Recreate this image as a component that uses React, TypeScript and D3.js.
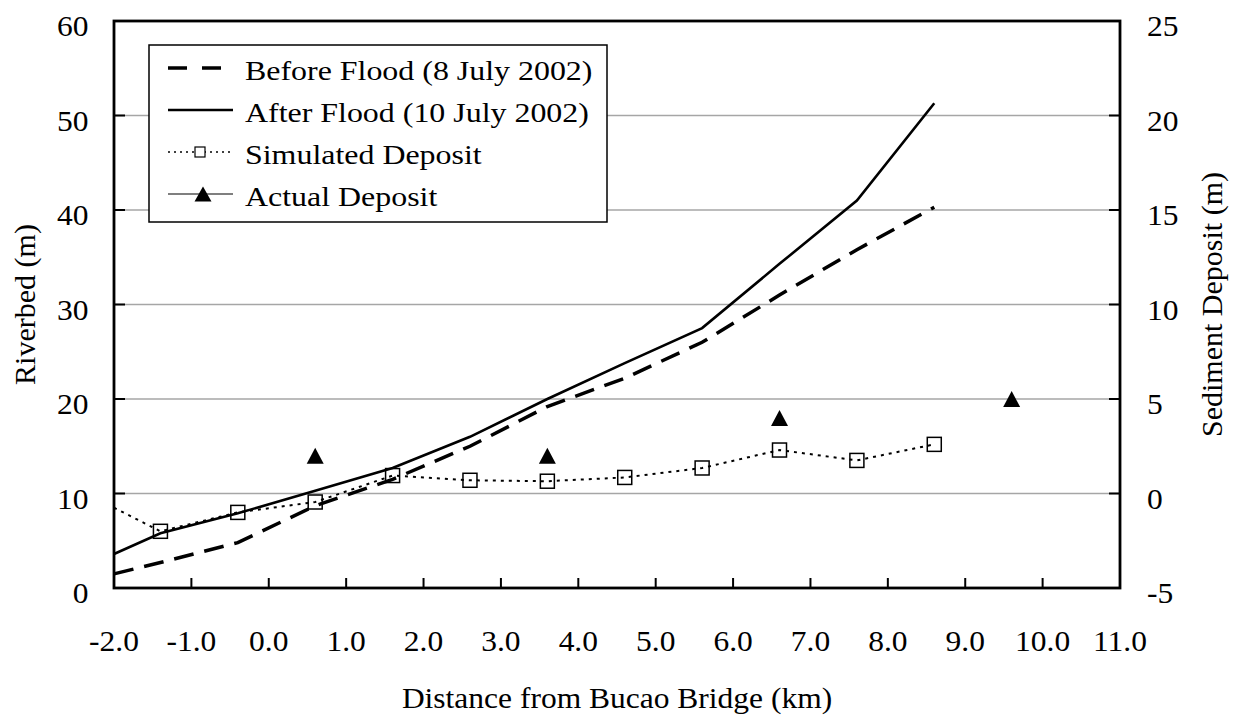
import React from "react";
import * as d3 from "d3";

const distance = [-2.0, -1.4, -0.4, 0.6, 1.6, 2.6, 3.6, 4.6, 5.6, 6.6, 7.6, 8.6];
const beforeFlood = [1.5, 2.7, 4.8, 8.7, 11.5, 15.0, 19.2, 22.2, 26.0, 31.0, 35.8, 40.3];
const afterFlood = [3.6, 5.8, 7.9, 10.3, 12.7, 16.0, 20.0, 23.8, 27.5, 34.3, 41.0, 51.3];
const simulatedDeposit = [-0.75, -2.0, -1.0, -0.45, 0.95, 0.7, 0.65, 0.85, 1.35, 2.3, 1.75, 2.6];
const actualDistance = [0.6, 3.6, 6.6, 9.6];
const actualDeposit = [2.0, 2.0, 4.0, 5.0];

const xTicks = [-2, -1, 0, 1, 2, 3, 4, 5, 6, 7, 8, 9, 10, 11];
const yLeftTicks = [0, 10, 20, 30, 40, 50, 60];
const yRightTicks = [-5, 0, 5, 10, 15, 20, 25];

const legendLabels = [
  "Before Flood (8 July 2002)",
  "After Flood (10 July 2002)",
  "Simulated Deposit",
  "Actual Deposit",
];

const L = 114, R = 1120, T = 21, B = 588;
const FONT = "Liberation Serif";

export default function App() {
  const x = d3.scaleLinear().domain([-2, 11]).range([L, R]);
  const yL = d3.scaleLinear().domain([0, 60]).range([B, T]);
  const yR = d3.scaleLinear().domain([-5, 25]).range([B, T]);

  const lineL = d3.line<[number, number]>().x((d) => x(d[0])).y((d) => yL(d[1]));
  const lineR = d3.line<[number, number]>().x((d) => x(d[0])).y((d) => yR(d[1]));

  const beforePts = distance.map((d, i) => [d, beforeFlood[i]] as [number, number]);
  const afterPts = distance.map((d, i) => [d, afterFlood[i]] as [number, number]);
  const simPts = distance.map((d, i) => [d, simulatedDeposit[i]] as [number, number]);
  const actPts = actualDistance.map((d, i) => [d, actualDeposit[i]] as [number, number]);

  const tri = (cx: number, cy: number, w = 17, h = 16) =>
    `M${cx},${cy - h / 2}L${cx + w / 2},${cy + h / 2}L${cx - w / 2},${cy + h / 2}Z`;

  const sq = 14;
  const legendRows = [68, 110, 152, 194];
  const txt = { fontFamily: FONT };

  return (
    <svg width={1240} height={718} style={{ position: "absolute", left: 0, top: 0, background: "#fff" }}>
      <rect x={0} y={0} width={1240} height={718} fill="#fff" />
      {yLeftTicks.filter((t) => t > 0 && t < 60).map((t) => (
        <line key={"g" + t} x1={L} x2={R} y1={yL(t)} y2={yL(t)} stroke="#a6a6a6" strokeWidth={1.3} />
      ))}
      {yLeftTicks.map((t) => (
        <g key={"yl" + t}>
          <line x1={L} x2={L + 11} y1={yL(t)} y2={yL(t)} stroke="#000" strokeWidth={2} />
          <text style={txt} transform={`translate(88.5,${yL(t) + 15}) scale(1.05,1)`} textAnchor="end" fontSize={30}>
            {t}
          </text>
        </g>
      ))}
      {yRightTicks.map((t) => (
        <g key={"yr" + t}>
          <line x1={R - 11} x2={R} y1={yR(t)} y2={yR(t)} stroke="#000" strokeWidth={2} />
          <text style={txt} transform={`translate(1147,${yR(t) + 15}) scale(1.05,1)`} textAnchor="start" fontSize={30}>
            {t}
          </text>
        </g>
      ))}
      {xTicks.map((t) => (
        <g key={"x" + t}>
          {t > -2 && t < 11 && (
            <line x1={x(t)} x2={x(t)} y1={B} y2={B - 10} stroke="#000" strokeWidth={2} />
          )}
          <text style={txt} transform={`translate(${x(t)},651) scale(1.05,1)`} textAnchor="middle" fontSize={30}>
            {t.toFixed(1)}
          </text>
        </g>
      ))}

      <path d={lineL(beforePts) || ""} fill="none" stroke="#000" strokeWidth={3.5} strokeDasharray="20,11" />
      <path d={lineL(afterPts) || ""} fill="none" stroke="#000" strokeWidth={2.6} />
      <path d={lineR(simPts) || ""} fill="none" stroke="#000" strokeWidth={2} strokeDasharray="3,5" />
      {simPts.slice(1).map((p, i) => (
        <rect key={"s" + i} x={x(p[0]) - sq / 2} y={yR(p[1]) - sq / 2} width={sq} height={sq} fill="none" stroke="#000" strokeWidth={1.5} />
      ))}
      {actPts.map((p, i) => (
        <path key={"a" + i} d={tri(x(p[0]), yR(p[1]))} fill="#000" />
      ))}

      <rect x={L} y={T} width={R - L} height={B - T} fill="none" stroke="#000" strokeWidth={2.8} />

      <rect x={149} y={45} width={458} height={177} fill="#fff" stroke="#000" strokeWidth={1.5} />
      <line x1={168} x2={222} y1={legendRows[0]} y2={legendRows[0]} stroke="#000" strokeWidth={3.5} strokeDasharray="19,15" />
      <line x1={168} x2={233} y1={legendRows[1]} y2={legendRows[1]} stroke="#000" strokeWidth={2.6} />
      <line x1={168} x2={233} y1={legendRows[2]} y2={legendRows[2]} stroke="#000" strokeWidth={1.5} strokeDasharray="2,4" />
      <rect x={200 - 5} y={legendRows[2] - 5} width={10} height={10} fill="#fff" stroke="#000" strokeWidth={1.2} />
      <line x1={168} x2={233} y1={legendRows[3]} y2={legendRows[3]} stroke="#000" strokeWidth={1.2} />
      <path d={tri(203, legendRows[3], 17, 15)} fill="#000" />
      {legendLabels.map((lab, i) => (
        <text key={lab} style={txt} transform={`translate(245,${legendRows[i] + 12}) scale(1.14,1)`} fontSize={28}>
          {lab}
        </text>
      ))}

      <text style={txt} transform={`translate(617,708) scale(1.05,1)`} textAnchor="middle" fontSize={30}>
        Distance from Bucao Bridge (km)
      </text>
      <text style={txt} transform={`translate(35,${(T + B) / 2}) rotate(-90)`} textAnchor="middle" fontSize={30}>
        Riverbed (m)
      </text>
      <text style={txt} transform={`translate(1222,${(T + B) / 2}) rotate(-90)`} textAnchor="middle" fontSize={30}>
        Sediment Deposit (m)
      </text>
    </svg>
  );
}
